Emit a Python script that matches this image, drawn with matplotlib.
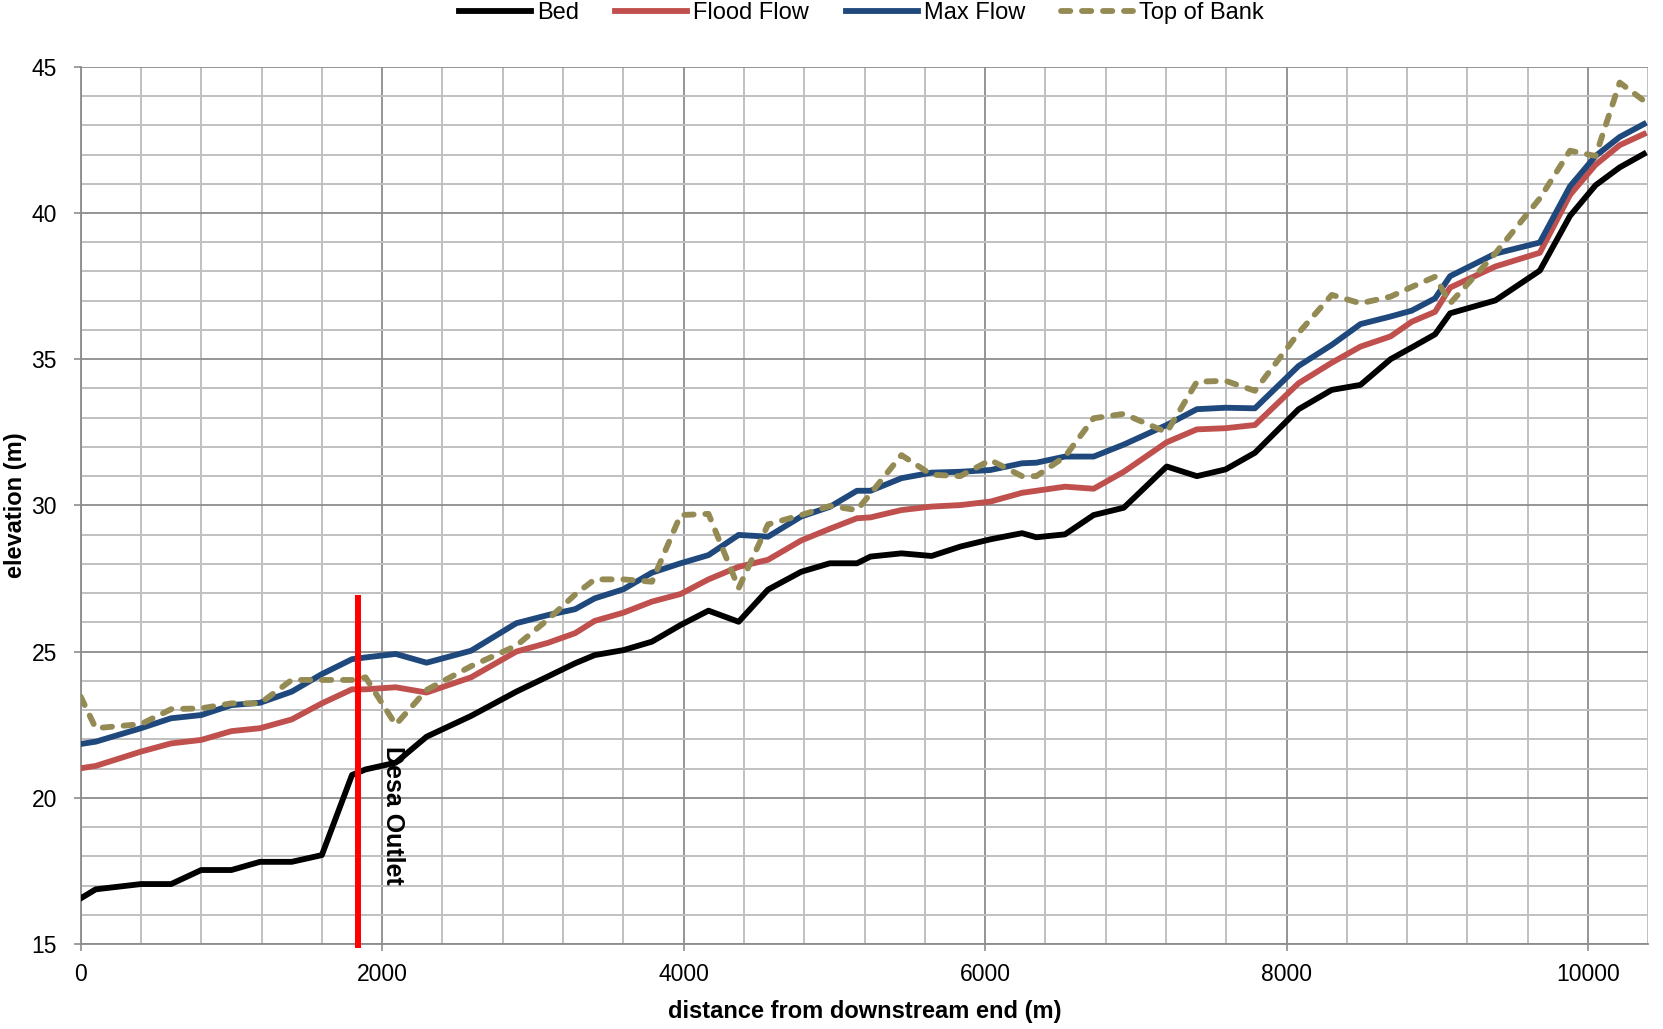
import matplotlib
matplotlib.use("Agg")
import matplotlib.pyplot as plt
from matplotlib.ticker import MultipleLocator

# ---- data ----
stations = [0, 100, 400, 600, 800, 1000, 1190, 1400, 1600, 1800, 1890, 2090, 2295, 2590,
            2890, 3100, 3280, 3410, 3600, 3790, 3980, 4165, 4365, 4560, 4780, 4970, 5150,
            5240, 5445, 5645, 5835, 6035, 6245, 6340, 6530, 6720, 6920, 7205, 7405, 7595,
            7790, 8080, 8300, 8490, 8690, 8830, 8985, 9085, 9385, 9680, 9880, 10050, 10210,
            10370]

bed = [16.56, 16.87, 17.05, 17.05, 17.53, 17.53, 17.81, 17.81, 18.04, 20.78, 20.97, 21.2,
       22.09, 22.8, 23.63, 24.15, 24.6, 24.88, 25.05, 25.34, 25.91, 26.4, 26.02, 27.12,
       27.73, 28.02, 28.02, 28.25, 28.36, 28.27, 28.59, 28.84, 29.05, 28.91, 29.01, 29.67,
       29.92, 31.33, 31.0, 31.23, 31.8, 33.29, 33.95, 34.12, 35.0, 35.4, 35.85, 36.57,
       37.01, 38.03, 39.9, 40.95, 41.56, 42.02]

flood_flow = [21.01, 21.09, 21.58, 21.86, 21.98, 22.28, 22.38, 22.68, 23.23, 23.71, 23.71,
              23.78, 23.6, 24.12, 25.0, 25.3, 25.63, 26.05, 26.33, 26.71, 26.97, 27.47, 27.9,
              28.14, 28.8, 29.2, 29.56, 29.59, 29.84, 29.96, 30.01, 30.13, 30.43, 30.5,
              30.64, 30.57, 31.15, 32.16, 32.6, 32.64, 32.75, 34.18, 34.88, 35.43, 35.78,
              36.28, 36.62, 37.45, 38.17, 38.64, 40.62, 41.65, 42.32, 42.7]

max_flow = [21.84, 21.92, 22.38, 22.72, 22.83, 23.17, 23.25, 23.63, 24.23, 24.74, 24.8,
            24.92, 24.62, 25.03, 25.97, 26.25, 26.45, 26.82, 27.13, 27.7, 28.02, 28.3,
            28.99, 28.93, 29.62, 29.95, 30.5, 30.5, 30.93, 31.12, 31.15, 31.21, 31.44,
            31.46, 31.67, 31.67, 32.08, 32.75, 33.29, 33.34, 33.32, 34.77, 35.49, 36.2,
            36.46, 36.66, 37.08, 37.84, 38.61, 38.99, 40.91, 41.95, 42.6, 43.04]

top_of_bank = [23.46, 22.38, 22.52, 23.03, 23.06, 23.23, 23.23, 24.03, 24.03, 24.03, 24.12,
               22.5, 23.69, 24.5, 25.2, 26.1, 26.95, 27.47, 27.47, 27.39, 29.67, 29.71,
               27.17, 29.35, 29.67, 29.98, 29.84, 30.4, 31.72, 31.05, 31.0, 31.55, 31.0,
               31.0, 31.67, 32.98, 33.13, 32.5, 34.23, 34.26, 33.92, 35.9, 37.2, 36.91,
               37.14, 37.47, 37.82, 36.91, 38.62, 40.5, 42.13, 41.95, 44.46, 43.84]

series_names = ["Bed", "Flood Flow", "Max Flow", "Top of Bank"]

outlet_x = 1840
outlet_top = 26.95
outlet_label = "Desa Outlet"

x_ticks = [0, 2000, 4000, 6000, 8000, 10000]
y_ticks = [15, 20, 25, 30, 35, 40, 45]

# ---- figure ----
FONT = "Liberation Sans"
plt.rcParams["font.family"] = [FONT, "DejaVu Sans"]

fig = plt.figure(figsize=(16.63, 10.29), dpi=100)
ax = fig.add_axes([0.0485, 0.0826, 0.9427, 0.8525])

lw = 4.2
l1, = ax.plot(stations, bed, color="#000000", lw=lw, zorder=3)
l2, = ax.plot(stations, flood_flow, color="#C0504D", lw=lw, zorder=3)
l3, = ax.plot(stations, max_flow, color="#1F497D", lw=lw, zorder=3)
l4, = ax.plot(stations, top_of_bank, color="#948A54", lw=lw, zorder=4,
              dashes=(1.6, 2.0), dash_capstyle="round")

ax.plot([outlet_x, outlet_x], [14.88, outlet_top], color="#FF0000", lw=4.3,
        solid_capstyle="butt", clip_on=False, zorder=5)
ax.text(outlet_x + 229, 21.78, outlet_label, rotation=270, ha="center", va="top",
        fontsize=18, fontweight="bold", color="black", zorder=6)

ax.set_xlim(0, 10400)
ax.set_ylim(15, 45)
ax.set_xticks(x_ticks)
ax.set_yticks(y_ticks)
ax.xaxis.set_minor_locator(MultipleLocator(400))
ax.yaxis.set_minor_locator(MultipleLocator(1))

ax.grid(which="minor", color="#C0C0C0", lw=1.4, zorder=0)
ax.grid(which="major", color="#8C8C8C", lw=1.3, zorder=1)
ax.set_axisbelow(True)

for s in ["top", "right"]:
    ax.spines[s].set_visible(False)
for s in ["left", "bottom"]:
    ax.spines[s].set_color("#8C8C8C")
    ax.spines[s].set_linewidth(1.3)

ax.tick_params(which="major", length=5, width=1.2, color="#8C8C8C", labelsize=16.5)
ax.tick_params(axis="x", which="major", pad=9)
ax.tick_params(axis="y", which="major", pad=12)
ax.tick_params(which="minor", length=0)

ax.set_xlabel("distance from downstream end (m)", fontsize=17, fontweight="bold", labelpad=10)
ax.set_ylabel("elevation (m)", fontsize=17, fontweight="bold", va="center")
ax.yaxis.set_label_coords(-0.0415, 0.5)

fig.legend([l1, l2, l3, l4], series_names, loc="center", bbox_to_anchor=(0.518, 0.987),
           ncol=4, frameon=False, fontsize=17, handlelength=3.05, handletextpad=0.25,
           columnspacing=1.55)

fig.savefig("out.png", dpi=100)
